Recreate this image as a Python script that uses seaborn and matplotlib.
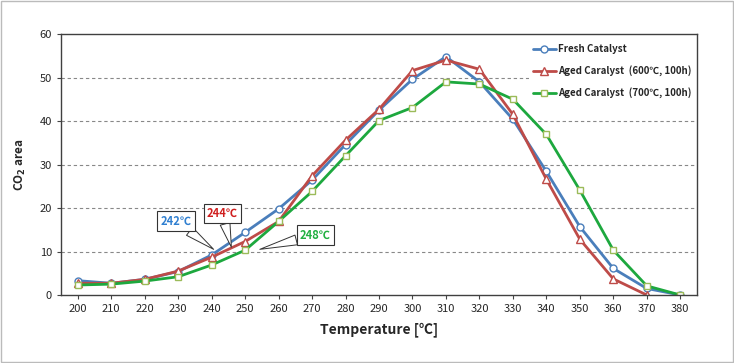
import matplotlib
matplotlib.use('Agg')
import matplotlib.pyplot as plt
import seaborn as sns
import pandas as pd
from matplotlib.patches import Rectangle

# data
temps = [200, 210, 220, 230, 240, 250, 260, 270, 280, 290,
         300, 310, 320, 330, 340, 350, 360, 370, 380]
fresh = [3.3, 2.7, 3.6, 5.4, 9.2, 14.4, 19.8, 26.4, 34.6, 42.5,
         49.6, 54.8, 49.0, 40.4, 28.4, 15.7, 6.1, 1.5, 0.0]
aged_600 = [2.7, 2.7, 3.6, 5.5, 8.7, 12.3, 16.9, 27.4, 35.6, 42.7,
            51.6, 54.0, 51.9, 41.5, 26.6, 12.8, 3.7, 0.0]
aged_700 = [2.3, 2.5, 3.2, 4.2, 6.9, 10.3, 16.9, 23.8, 32.0, 40.1,
            43.1, 49.0, 48.5, 45.0, 36.9, 24.1, 10.3, 2.1, 0.0]

labels = ['Fresh Catalyst', 'Aged Caralyst  (600℃, 100h)', 'Aged Caralyst  (700℃, 100h)']
line_colors = ['#4A7EBB', '#BE4B48', '#1DA83E']
edge_colors = ['#4A7EBB', '#BE4B48', '#9BBB59']
markers = ['o', '^', 's']

# callout labels: text, point it refers to, box centre, colour
callouts = [('242℃', (240.6, 10.5), (229.3, 17.0), '#2F7FD0'),
            ('244℃', (245.9, 11.0), (243.2, 18.7), '#D01F1F'),
            ('248℃', (254.4, 10.5), (271.0, 13.8), '#20B040')]

sns.set_style('white')
plt.rcParams['font.family'] = ['Noto Sans CJK KR', 'DejaVu Sans']

fig = plt.figure(figsize=(7.34, 3.63), dpi=100)
ax = fig.add_axes([0.0831, 0.1873, 0.8665, 0.719])

series = [fresh, aged_600, aged_700]
for vals, lab, lc, ec, mk in zip(series, labels, line_colors, edge_colors, markers):
    df = pd.DataFrame({'T': temps[:len(vals)], 'v': vals})
    sns.lineplot(data=df, x='T', y='v', ax=ax, color=lc, lw=2.0, marker=mk,
                 markersize=5 if mk != '^' else 5.5, markerfacecolor='white',
                 markeredgecolor=ec, markeredgewidth=1.0, label=lab, zorder=3)

ax.set_xlim(195, 385)
ax.set_ylim(0, 60)
ax.set_xticks(temps)
ax.set_xticklabels([str(t) for t in temps], fontsize=8)
ax.set_yticks(range(0, 61, 10))
ax.tick_params(axis='y', labelsize=8, length=3, color='#444444', direction='out', left=True)
ax.tick_params(axis='x', length=3, color='#444444', direction='out', bottom=True)
for y in range(10, 60, 10):
    ax.axhline(y, color='#888888', lw=0.8, ls=(0, (3, 2.5)), zorder=1)
for s in ax.spines.values():
    s.set_color('#404040')
    s.set_linewidth(1.0)
    s.set_zorder(6)

ax.set_xlabel('Temperature [℃]', fontsize=10, fontweight='bold', labelpad=6)
ax.set_ylabel('CO$_\\mathbf{2}$ area', fontsize=8.5, fontweight='bold', labelpad=8)

leg = ax.legend(loc='upper left', bbox_to_anchor=(0.728, 0.995), frameon=True,
                fontsize=7.0, handlelength=2.4, handletextpad=0.15,
                labelspacing=1.15, borderpad=0.4)
leg.get_frame().set_facecolor('white')
leg.get_frame().set_edgecolor('none')
leg.get_frame().set_alpha(1)
for t in leg.get_texts():
    t.set_fontweight('bold')

for txt, pt, pos, col in callouts:
    ax.annotate(txt, xy=pt, xytext=pos, fontsize=8, fontweight='bold', color=col,
                ha='center', va='center', zorder=5,
                bbox=dict(boxstyle='square,pad=0.3', fc='white', ec='#333333', lw=0.8),
                arrowprops=dict(arrowstyle='wedge,tail_width=0.9', fc='white',
                                ec='#333333', lw=0.7, shrinkA=0, shrinkB=0))

fig.patches.append(Rectangle((0.001, 0.002), 0.997, 0.995, transform=fig.transFigure,
                             fill=False, ec='#BBBBBB', lw=1.0))

fig.savefig('out.png', dpi=100)
